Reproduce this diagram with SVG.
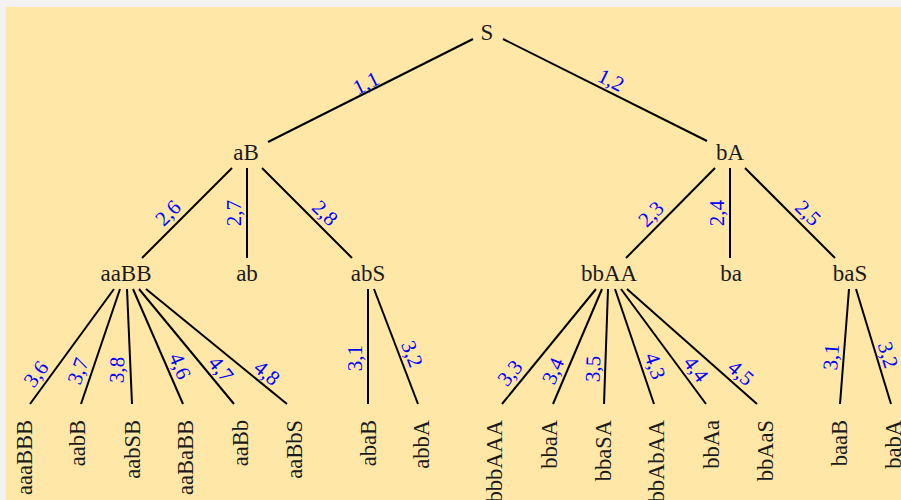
<svg xmlns="http://www.w3.org/2000/svg" width="901" height="500" viewBox="0 0 901 500">
<style>
.n{font-family:"Liberation Serif","DejaVu Serif",serif;font-size:23px;fill:#1a1a1a;text-anchor:middle}
.lf{font-family:"Liberation Serif","DejaVu Serif",serif;font-size:22.5px;fill:#1a1a1a;text-anchor:end}
.l{font-family:"Liberation Serif","DejaVu Serif",serif;font-size:21px;fill:#0000ff;text-anchor:middle;dominant-baseline:central}
.e line{stroke:#000;stroke-width:2;stroke-linecap:butt}
</style>
<rect x="0" y="0" width="901" height="500" fill="#f2f2f2"/>
<rect x="6" y="7" width="895" height="493" fill="#ffe7a8"/>
<g id="connectors" class="e">
<line x1="473" y1="39" x2="268" y2="142"/>
<line x1="503" y1="39" x2="707" y2="141"/>
<line x1="232" y1="168" x2="142" y2="258"/>
<line x1="247" y1="168" x2="247" y2="258"/>
<line x1="262" y1="168" x2="352" y2="258"/>
<line x1="715" y1="168" x2="626" y2="258"/>
<line x1="730" y1="168" x2="730" y2="258"/>
<line x1="745" y1="168" x2="835" y2="258"/>
<line x1="114" y1="289" x2="30" y2="404"/>
<line x1="120" y1="289" x2="81" y2="404"/>
<line x1="127" y1="289" x2="132" y2="404"/>
<line x1="133" y1="289" x2="183" y2="404"/>
<line x1="139" y1="289" x2="234" y2="404"/>
<line x1="146" y1="289" x2="287" y2="404"/>
<line x1="368" y1="289" x2="368" y2="404"/>
<line x1="374" y1="289" x2="418" y2="404"/>
<line x1="596" y1="289" x2="502" y2="404"/>
<line x1="602" y1="289" x2="553" y2="404"/>
<line x1="608" y1="289" x2="604" y2="404"/>
<line x1="615" y1="289" x2="654" y2="404"/>
<line x1="621" y1="289" x2="706" y2="404"/>
<line x1="627" y1="289" x2="757" y2="404"/>
<line x1="849" y1="289" x2="840" y2="404"/>
<line x1="856" y1="289" x2="891" y2="404"/>
</g>
<g id="edge-labels">
<text class="l" transform="translate(366,83) rotate(-26.7)">1,1</text>
<text class="l" transform="translate(611,80) rotate(26.6)">1,2</text>
<text class="l" transform="translate(168,213) rotate(-45)">2,6</text>
<text class="l" transform="translate(234,213) rotate(-90)">2,7</text>
<text class="l" transform="translate(325,213) rotate(45)">2,8</text>
<text class="l" transform="translate(651,214) rotate(-45)">2,3</text>
<text class="l" transform="translate(717,213) rotate(-90)">2,4</text>
<text class="l" transform="translate(808,213) rotate(45)">2,5</text>
<text class="l" transform="translate(36,374) rotate(-53.6)">3,6</text>
<text class="l" transform="translate(78,371) rotate(-70.7)">3,7</text>
<text class="l" transform="translate(117,370) rotate(-88)">3,8</text>
<text class="l" transform="translate(180,366) rotate(66.7)">4,6</text>
<text class="l" transform="translate(221,369) rotate(50.7)">4,7</text>
<text class="l" transform="translate(267,373) rotate(39.4)">4,8</text>
<text class="l" transform="translate(355,358) rotate(-90)">3,1</text>
<text class="l" transform="translate(412,354) rotate(68.5)">3,2</text>
<text class="l" transform="translate(510,373) rotate(-50.5)">3,3</text>
<text class="l" transform="translate(553,371) rotate(-66.7)">3,4</text>
<text class="l" transform="translate(593,369) rotate(-88)">3,5</text>
<text class="l" transform="translate(655,366) rotate(71.1)">4,3</text>
<text class="l" transform="translate(696,369) rotate(53.3)">4,4</text>
<text class="l" transform="translate(741,373) rotate(41.2)">4,5</text>
<text class="l" transform="translate(831,357) rotate(-85.5)">3,1</text>
<text class="l" transform="translate(888,355) rotate(72.9)">3,2</text>
</g>
<g id="n-S"><text class="n" x="487" y="40">S</text></g>
<g id="n-aB"><text class="n" x="246" y="160">aB</text></g>
<g id="n-bA"><text class="n" x="730" y="160">bA</text></g>
<g id="n-aaBB"><text class="n" x="126" y="281">aaBB</text></g>
<g id="n-ab"><text class="n" x="247" y="281">ab</text></g>
<g id="n-abS"><text class="n" x="368" y="281">abS</text></g>
<g id="n-bbAA"><text class="n" x="609" y="281">bbAA</text></g>
<g id="n-ba"><text class="n" x="731" y="281">ba</text></g>
<g id="n-baS"><text class="n" x="850" y="281">baS</text></g>
<g id="n-aaaBBB"><text class="lf" transform="translate(32,420) rotate(-90)">aaaBBB</text></g>
<g id="n-aabB"><text class="lf" transform="translate(85,420) rotate(-90)">aabB</text></g>
<g id="n-aabSB"><text class="lf" transform="translate(140,420) rotate(-90)">aabSB</text></g>
<g id="n-aaBaBB"><text class="lf" transform="translate(193,420) rotate(-90)">aaBaBB</text></g>
<g id="n-aaBb"><text class="lf" transform="translate(248,420) rotate(-90)">aaBb</text></g>
<g id="n-aaBbS"><text class="lf" transform="translate(302,420) rotate(-90)">aaBbS</text></g>
<g id="n-abaB"><text class="lf" transform="translate(376,420) rotate(-90)">abaB</text></g>
<g id="n-abbA"><text class="lf" transform="translate(429,420) rotate(-90)">abbA</text></g>
<g id="n-bbbAAA"><text class="lf" transform="translate(502,420) rotate(-90)">bbbAAA</text></g>
<g id="n-bbaA"><text class="lf" transform="translate(557,420) rotate(-90)">bbaA</text></g>
<g id="n-bbaSA"><text class="lf" transform="translate(611,420) rotate(-90)">bbaSA</text></g>
<g id="n-bbAbAA"><text class="lf" transform="translate(664,420) rotate(-90)">bbAbAA</text></g>
<g id="n-bbAa"><text class="lf" transform="translate(719,420) rotate(-90)">bbAa</text></g>
<g id="n-bbAaS"><text class="lf" transform="translate(773,420) rotate(-90)">bbAaS</text></g>
<g id="n-baaB"><text class="lf" transform="translate(847,420) rotate(-90)">baaB</text></g>
<g id="n-babA"><text class="lf" transform="translate(901,420) rotate(-90)">babA</text></g>
</svg>
